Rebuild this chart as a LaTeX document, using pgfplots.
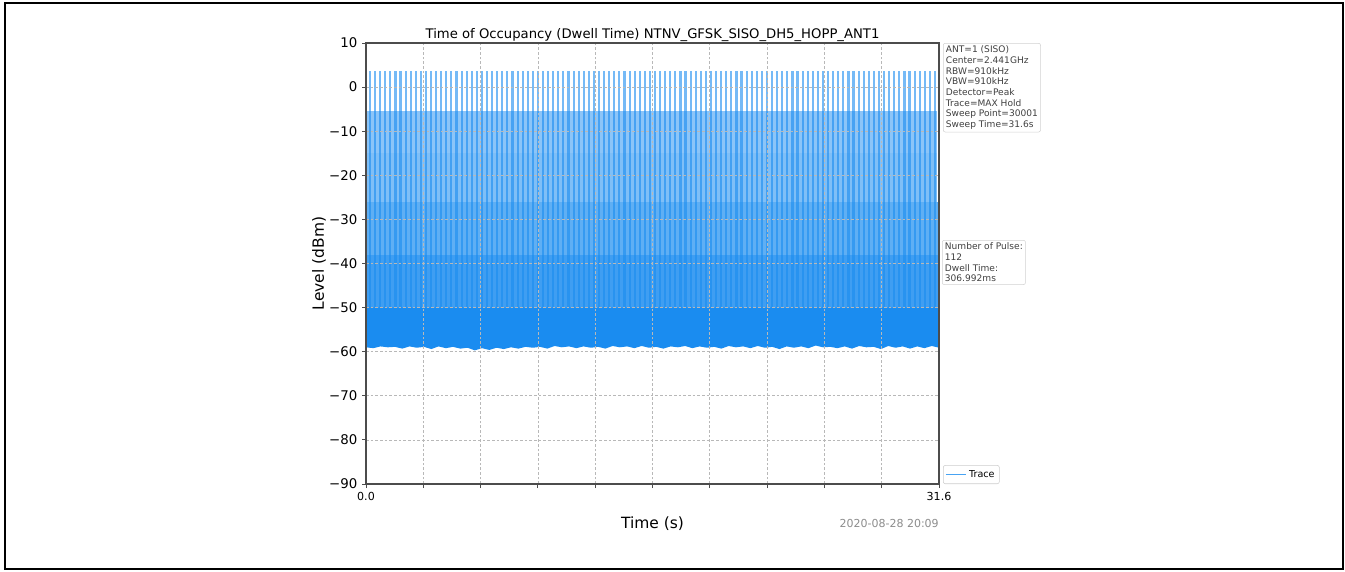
\documentclass[border=0pt]{standalone}
\usepackage{fontspec}
\setmainfont{DejaVu Sans}
\usepackage{pgfplots}
\pgfplotsset{compat=1.18}
\definecolor{trace}{RGB}{26,140,240}

\begin{document}
\begin{tikzpicture}
\useasboundingbox (0,0) rectangle (1008.75pt,-428.25pt);
\draw[line width=1.5pt] (3.75pt,-2.25pt) rectangle (1006.9pt,-426.75pt);

\begin{axis}[
    name=ax,
    at={(274.5pt,-363pt)}, anchor=south west,
    width=429.75pt, height=330.75pt, scale only axis,
    xmin=0, xmax=31.6, ymin=-90, ymax=10,
    xtick={0,3.16,6.32,9.48,12.64,15.8,18.96,22.12,25.28,28.44,31.6},
    xticklabels={0.0,,,,,,,,,,31.6},
    ytick={-90,-80,-70,-60,-50,-40,-30,-20,-10,0,10},
    yticklabels={−90,−80,−70,−60,−50,−40,−30,−20,−10,0,10},
    tick pos=left, tick align=outside, major tick length=3pt,
    grid=major,
    grid style={dash pattern=on 2pt off 1.5pt, black!28, line width=0.5pt},
    axis line style={black!70, line width=0.8pt},
    tick style={black!70, line width=0.7pt},
    axis on top,
    unbounded coords=jump,
    title={Time of Occupancy (Dwell Time) NTNV\_GFSK\_SISO\_DH5\_HOPP\_ANT1},
    title style={font=\fontsize{9.9}{12}\selectfont, yshift=-8.5pt},
    xlabel={Time (s)}, ylabel={Level (dBm)},
    label style={font=\fontsize{11.6}{14}\selectfont},
    xlabel style={yshift=-5pt},
    ylabel style={yshift=-4.5pt},
    x tick label style={font=\fontsize{8.3}{10}\selectfont},
    y tick label style={font=\fontsize{10}{12}\selectfont},
    legend style={at={(1.007,0)}, anchor=south west, draw=black!20,
        rounded corners=1.5pt, inner sep=1.5pt,
        font=\fontsize{7.2}{8.6}\selectfont, cells={anchor=west}},
    legend image code/.code={\draw[trace!80!white, line width=0.9pt, draw opacity=1] (0pt,0pt) -- (15pt,0pt);},
]

% level bands built up by the hopping pulses on neighbouring channels
\addplot[draw=none, fill=trace!50!white, forget plot] coordinates {(0.08,-15) (31.5,-15) (31.5,-5.5) (0.08,-5.5)};
\addplot[draw=none, fill=trace!56!white, forget plot] coordinates {(0.08,-26) (31.5,-26) (31.5,-15) (0.08,-15)};
\addplot[draw=none, fill=trace!70!white, forget plot] coordinates {(0.05,-38) (31.55,-38) (31.55,-26) (0.05,-26)};
\addplot[draw=none, fill=trace!84!white, forget plot] coordinates {(0.03,-50) (31.58,-50) (31.58,-38) (0.03,-38)};

% noise floor
\addplot[draw=none, fill=trace, forget plot] coordinates {
(0,-50) (31.6,-50)
(31.6,-59.1) (31.2,-58.7) (30.8,-59.2) (30.4,-58.8) (30.0,-59.3) (29.6,-58.8)
(29.2,-59.1) (28.8,-58.7) (28.4,-59.4) (28.0,-58.9) (27.6,-59.0) (27.2,-58.7)
(26.8,-59.3) (26.4,-58.8) (26.0,-59.2) (25.6,-58.9) (25.2,-59.0) (24.8,-58.6)
(24.4,-59.2) (24.0,-58.8) (23.6,-59.1) (23.2,-58.8) (22.8,-59.4) (22.4,-58.9)
(22.0,-59.1) (21.6,-58.7) (21.2,-59.2) (20.8,-58.8) (20.4,-59.0) (20.0,-58.7)
(19.6,-59.3) (19.2,-58.9) (18.8,-59.1) (18.4,-58.8) (18.0,-59.2) (17.6,-58.7)
(17.2,-59.0) (16.8,-58.8) (16.4,-59.3) (16.0,-58.9) (15.6,-59.1) (15.2,-58.7)
(14.8,-59.2) (14.4,-58.8) (14.0,-59.0) (13.6,-58.7) (13.2,-59.3) (12.8,-58.9)
(12.4,-59.1) (12.0,-58.8) (11.6,-59.2) (11.2,-58.8) (10.8,-59.0) (10.4,-58.7)
(10.0,-59.3) (9.6,-58.9) (9.2,-59.1) (8.8,-58.9) (8.4,-59.3) (8.0,-59.0)
(7.6,-59.4) (7.2,-59.1) (6.8,-59.6) (6.4,-59.2) (6.0,-59.7) (5.6,-59.1)
(5.2,-59.3) (4.8,-58.9) (4.4,-59.2) (4.0,-58.8) (3.6,-59.4) (3.2,-58.9)
(2.8,-59.1) (2.4,-58.8) (2.0,-59.3) (1.6,-58.9) (1.2,-59.0) (0.8,-58.8)
(0.4,-59.2) (0,-59.0)
};

% on-channel pulses (112)
\addplot[trace, line width=1.6pt, draw opacity=0.6] coordinates {
(0.220,-50) (0.220,3.7) (0.220,nan) (0.501,-50) (0.501,3.7) (0.501,nan)
(0.781,-50) (0.781,3.7) (0.781,nan) (1.062,-50) (1.062,3.7) (1.062,nan)
(1.343,-50) (1.343,3.7) (1.343,nan) (1.624,-50) (1.624,3.7) (1.624,nan)
(1.904,-50) (1.904,3.7) (1.904,nan) (2.185,-50) (2.185,3.7) (2.185,nan)
(2.466,-50) (2.466,3.7) (2.466,nan) (2.746,-50) (2.746,3.7) (2.746,nan)
(3.027,-50) (3.027,3.7) (3.027,nan) (3.308,-50) (3.308,3.7) (3.308,nan)
(3.588,-50) (3.588,3.7) (3.588,nan) (3.869,-50) (3.869,3.7) (3.869,nan)
(4.150,-50) (4.150,3.7) (4.150,nan) (4.431,-50) (4.431,3.7) (4.431,nan)
(4.711,-50) (4.711,3.7) (4.711,nan) (4.992,-50) (4.992,3.7) (4.992,nan)
(5.273,-50) (5.273,3.7) (5.273,nan) (5.553,-50) (5.553,3.7) (5.553,nan)
(5.834,-50) (5.834,3.7) (5.834,nan) (6.115,-50) (6.115,3.7) (6.115,nan)
(6.395,-50) (6.395,3.7) (6.395,nan) (6.676,-50) (6.676,3.7) (6.676,nan)
(6.957,-50) (6.957,3.7) (6.957,nan) (7.238,-50) (7.238,3.7) (7.238,nan)
(7.518,-50) (7.518,3.7) (7.518,nan) (7.799,-50) (7.799,3.7) (7.799,nan)
(8.080,-50) (8.080,3.7) (8.080,nan) (8.360,-50) (8.360,3.7) (8.360,nan)
(8.641,-50) (8.641,3.7) (8.641,nan) (8.922,-50) (8.922,3.7) (8.922,nan)
(9.202,-50) (9.202,3.7) (9.202,nan) (9.483,-50) (9.483,3.7) (9.483,nan)
(9.764,-50) (9.764,3.7) (9.764,nan) (10.045,-50) (10.045,3.7) (10.045,nan)
(10.325,-50) (10.325,3.7) (10.325,nan) (10.606,-50) (10.606,3.7) (10.606,nan)
(10.887,-50) (10.887,3.7) (10.887,nan) (11.167,-50) (11.167,3.7) (11.167,nan)
(11.448,-50) (11.448,3.7) (11.448,nan) (11.729,-50) (11.729,3.7) (11.729,nan)
(12.009,-50) (12.009,3.7) (12.009,nan) (12.290,-50) (12.290,3.7) (12.290,nan)
(12.571,-50) (12.571,3.7) (12.571,nan) (12.852,-50) (12.852,3.7) (12.852,nan)
(13.132,-50) (13.132,3.7) (13.132,nan) (13.413,-50) (13.413,3.7) (13.413,nan)
(13.694,-50) (13.694,3.7) (13.694,nan) (13.974,-50) (13.974,3.7) (13.974,nan)
(14.255,-50) (14.255,3.7) (14.255,nan) (14.536,-50) (14.536,3.7) (14.536,nan)
(14.816,-50) (14.816,3.7) (14.816,nan) (15.097,-50) (15.097,3.7) (15.097,nan)
(15.378,-50) (15.378,3.7) (15.378,nan) (15.659,-50) (15.659,3.7) (15.659,nan)
(15.939,-50) (15.939,3.7) (15.939,nan) (16.220,-50) (16.220,3.7) (16.220,nan)
(16.501,-50) (16.501,3.7) (16.501,nan) (16.781,-50) (16.781,3.7) (16.781,nan)
(17.062,-50) (17.062,3.7) (17.062,nan) (17.343,-50) (17.343,3.7) (17.343,nan)
(17.623,-50) (17.623,3.7) (17.623,nan) (17.904,-50) (17.904,3.7) (17.904,nan)
(18.185,-50) (18.185,3.7) (18.185,nan) (18.466,-50) (18.466,3.7) (18.466,nan)
(18.746,-50) (18.746,3.7) (18.746,nan) (19.027,-50) (19.027,3.7) (19.027,nan)
(19.308,-50) (19.308,3.7) (19.308,nan) (19.588,-50) (19.588,3.7) (19.588,nan)
(19.869,-50) (19.869,3.7) (19.869,nan) (20.150,-50) (20.150,3.7) (20.150,nan)
(20.430,-50) (20.430,3.7) (20.430,nan) (20.711,-50) (20.711,3.7) (20.711,nan)
(20.992,-50) (20.992,3.7) (20.992,nan) (21.273,-50) (21.273,3.7) (21.273,nan)
(21.553,-50) (21.553,3.7) (21.553,nan) (21.834,-50) (21.834,3.7) (21.834,nan)
(22.115,-50) (22.115,3.7) (22.115,nan) (22.395,-50) (22.395,3.7) (22.395,nan)
(22.676,-50) (22.676,3.7) (22.676,nan) (22.957,-50) (22.957,3.7) (22.957,nan)
(23.237,-50) (23.237,3.7) (23.237,nan) (23.518,-50) (23.518,3.7) (23.518,nan)
(23.799,-50) (23.799,3.7) (23.799,nan) (24.080,-50) (24.080,3.7) (24.080,nan)
(24.360,-50) (24.360,3.7) (24.360,nan) (24.641,-50) (24.641,3.7) (24.641,nan)
(24.922,-50) (24.922,3.7) (24.922,nan) (25.202,-50) (25.202,3.7) (25.202,nan)
(25.483,-50) (25.483,3.7) (25.483,nan) (25.764,-50) (25.764,3.7) (25.764,nan)
(26.044,-50) (26.044,3.7) (26.044,nan) (26.325,-50) (26.325,3.7) (26.325,nan)
(26.606,-50) (26.606,3.7) (26.606,nan) (26.887,-50) (26.887,3.7) (26.887,nan)
(27.167,-50) (27.167,3.7) (27.167,nan) (27.448,-50) (27.448,3.7) (27.448,nan)
(27.729,-50) (27.729,3.7) (27.729,nan) (28.009,-50) (28.009,3.7) (28.009,nan)
(28.290,-50) (28.290,3.7) (28.290,nan) (28.571,-50) (28.571,3.7) (28.571,nan)
(28.851,-50) (28.851,3.7) (28.851,nan) (29.132,-50) (29.132,3.7) (29.132,nan)
(29.413,-50) (29.413,3.7) (29.413,nan) (29.694,-50) (29.694,3.7) (29.694,nan)
(29.974,-50) (29.974,3.7) (29.974,nan) (30.255,-50) (30.255,3.7) (30.255,nan)
(30.536,-50) (30.536,3.7) (30.536,nan) (30.816,-50) (30.816,3.7) (30.816,nan)
(31.097,-50) (31.097,3.7) (31.097,nan) (31.378,-50) (31.378,3.7) (31.378,nan)
};
\addlegendentry{Trace}
\end{axis}

\node[anchor=north west, draw=black!18, rounded corners=1.5pt, align=left,
      inner xsep=2pt, inner ysep=2pt, text=black!75,
      font=\fontsize{6.8}{8}\selectfont] at (707.25pt,-32.25pt)
  {ANT=1 (SISO)\\Center=2.441GHz\\RBW=910kHz\\VBW=910kHz\\Detector=Peak\\Trace=MAX Hold\\Sweep Point=30001\\Sweep Time=31.6s};
\node[anchor=north west, draw=black!18, rounded corners=1.5pt, align=left,
      inner xsep=2pt, inner ysep=2pt, text=black!75,
      font=\fontsize{6.8}{8}\selectfont] at (706.5pt,-180pt)
  {Number of Pulse:\\112\\Dwell Time:\\306.992ms};
\node[anchor=east, text=black!45, font=\fontsize{8.25}{10}\selectfont, inner sep=0pt]
  at (704.25pt,-392.25pt) {2020-08-28 20:09};
\end{tikzpicture}
\end{document}
